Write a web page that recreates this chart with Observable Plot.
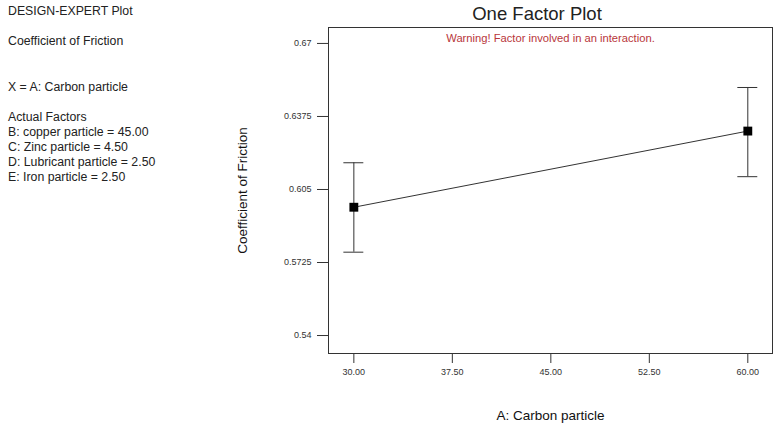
<!DOCTYPE html>
<html>
<head>
<meta charset="utf-8">
<script src="https://cdn.jsdelivr.net/npm/d3@7"></script>
<script src="https://cdn.jsdelivr.net/npm/@observablehq/plot@0.6"></script>
<style>
  html, body { margin: 0; padding: 0; background: #fff; }
  #wrap { position: relative; width: 775px; height: 425px; font-family: "Liberation Sans", Arial, sans-serif; color: #222; }
  #chart { position: absolute; left: 0; top: 0; }
  .note { position: absolute; left: 8px; font-size: 12.3px; line-height: 15px; white-space: nowrap; }
  #title { position: absolute; left: 537px; top: 3px; transform: translateX(-50%); font-size: 18.5px; white-space: nowrap; }
</style>
</head>
<body>
<div id="wrap">
  <div id="chart"></div>
  <div id="title"></div>
  <div class="note" id="n1" style="top:4px"></div>
  <div class="note" id="n2" style="top:34px"></div>
  <div class="note" id="n3" style="top:80px"></div>
  <div class="note" id="n4" style="top:110px"></div>
</div>
<script>
const titleText = "One Factor Plot";
const warningText = "Warning! Factor involved in an interaction.";
const headerLines = ["DESIGN-EXPERT Plot"];
const responseLines = ["Coefficient of Friction"];
const xFactorLines = ["X = A: Carbon particle"];
const actualFactorLines = [
  "Actual Factors",
  "B: copper particle = 45.00",
  "C: Zinc particle = 4.50",
  "D: Lubricant particle = 2.50",
  "E: Iron particle = 2.50"
];
const xLabel = "A: Carbon particle";
const yLabel = "Coefficient of Friction";

const carbon = [30, 60];
const predicted = [0.5971, 0.6310];
const lower = [0.5771, 0.6107];
const upper = [0.6169, 0.6504];

const xTicks = [30, 37.5, 45, 52.5, 60];
const yTicks = [0.54, 0.5725, 0.605, 0.6375, 0.67];
const yTickLabels = ["0.54", "0.5725", "0.605", "0.6375", "0.67"];

const capHalf = 0.76;

const data = carbon.map((x, i) => ({x, y: predicted[i], lo: lower[i], hi: upper[i]}));

document.getElementById("title").textContent = titleText;
document.getElementById("n1").innerHTML = headerLines.join("<br>");
document.getElementById("n2").innerHTML = responseLines.join("<br>");
document.getElementById("n3").innerHTML = xFactorLines.join("<br>");
document.getElementById("n4").innerHTML = actualFactorLines.join("<br>");

const ink = "#333";
const plot = Plot.plot({
  width: 775,
  height: 425,
  marginLeft: 328,
  marginRight: 3,
  marginTop: 27,
  marginBottom: 72,
  style: {fontFamily: "'Liberation Sans', Arial, sans-serif", fontSize: "9px", color: ink, background: "#fff"},
  x: {domain: [28.07, 61.88], ticks: xTicks, tickFormat: d => d.toFixed(2), tickSize: 10, tickPadding: 5, label: null},
  y: {domain: [0.532, 0.6771], ticks: yTicks, tickFormat: (d) => yTickLabels[yTicks.indexOf(d)], tickSize: 11, tickPadding: 6, label: null},
  marks: [
    Plot.frame({stroke: ink}),
    Plot.text([warningText], {frameAnchor: "top", dy: 7, fill: "#b8363a", fontSize: 11.2}),
    Plot.text([xLabel], {frameAnchor: "bottom", dy: 66, fontSize: 13.5, fill: "#111"}),
    Plot.text([yLabel], {frameAnchor: "left", textAnchor: "middle", dx: -86, rotate: -90, fontSize: 13.5, fill: "#111"}),
    Plot.ruleX(data, {x: "x", y1: "lo", y2: "hi", stroke: ink, strokeWidth: 1}),
    Plot.ruleY(data, {y: "hi", x1: d => d.x - capHalf, x2: d => d.x + capHalf, stroke: ink}),
    Plot.ruleY(data, {y: "lo", x1: d => d.x - capHalf, x2: d => d.x + capHalf, stroke: ink}),
    Plot.line(data, {x: "x", y: "y", stroke: ink, strokeWidth: 1}),
    Plot.dot(data, {x: "x", y: "y", symbol: "square", r: 5, fill: "#000", stroke: "none"})
  ]
});
document.getElementById("chart").appendChild(plot);
</script>
</body>
</html>
